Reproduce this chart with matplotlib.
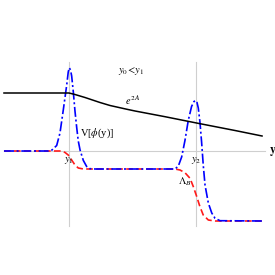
import matplotlib
matplotlib.use("Agg")
import matplotlib.pyplot as plt

plt.rcParams['font.family'] = 'serif'
plt.rcParams['font.serif'] = ['Liberation Serif', 'DejaVu Serif']
plt.rcParams['mathtext.fontset'] = 'stix'

# y1 at 0, y2 at 1 on the horizontal axis
y_marks = [0.0, 1.0]
y_mark_labels = ["$y_1$", "$y_2$"]

# warp factor e^{2A}
warp_x = [-0.512, 0.0, 0.047, 0.126, 0.244, 0.323, 0.457, 0.520, 0.756, 1.016, 1.307, 1.520]
warp_y = [0.58, 0.58, 0.565, 0.535, 0.485, 0.455, 0.417, 0.40, 0.343, 0.277, 0.205, 0.15]

# potential V[phi(y)]
pot_x = [-0.512, -0.165, -0.134, -0.097, -0.071, -0.045, -0.018, -0.006, 0.002, 0.012,
         0.021, 0.034, 0.047, 0.061, 0.073, 0.087, 0.113, 0.139, 0.165, 0.205,
         0.835, 0.861, 0.887, 0.913, 0.939, 0.965, 0.984, 0.998, 1.008, 1.018,
         1.031, 1.044, 1.057, 1.071, 1.097, 1.124, 1.150, 1.189, 1.520]
pot_y = [0.0, 0.0, 0.01, 0.055, 0.18, 0.41, 0.66, 0.79, 0.833, 0.81,
         0.75, 0.59, 0.40, 0.23, 0.10, 0.01, -0.095, -0.155, -0.177, -0.18,
         -0.18, -0.15, -0.06, 0.105, 0.305, 0.445, 0.495, 0.505, 0.485, 0.43,
         0.29, 0.09, -0.14, -0.34, -0.52, -0.62, -0.673, -0.697, -0.70]

# cosmological constant Lambda_B
lam_x = [-0.512, -0.057, -0.031, -0.006, 0.021, 0.047, 0.073, 0.113, 0.835, 0.874,
         0.913, 0.953, 0.979, 1.006, 1.031, 1.057, 1.097, 1.150, 1.520]
lam_y = [0.0, 0.0, -0.015, -0.04, -0.09, -0.14, -0.17, -0.18, -0.18, -0.19,
         -0.217, -0.273, -0.357, -0.457, -0.557, -0.64, -0.69, -0.70, -0.70]

fig = plt.figure(figsize=(2.75, 2.75), dpi=100)
ax = fig.add_axes([0, 0, 1, 1])
ax.set_xlim(-0.5433, 1.622)
ax.set_ylim(-1.24, 1.51)
ax.axis('off')

gray = '#cfcfcf'
ax.plot([-0.512, 1.543], [0, 0], color=gray, lw=0.8, zorder=1)
for xm in y_marks:
    ax.plot([xm, xm], [0.89, -0.75], color=gray, lw=0.8, zorder=1)

ax.plot(warp_x, warp_y, color='black', lw=1.1, zorder=3)
ax.plot(lam_x, lam_y, color='#ff1a1a', lw=1.2, dashes=(4, 2), zorder=2)
ax.plot(pot_x, pot_y, color='#0000ff', lw=1.2, dashes=(6, 1.6, 1.2, 1.6), zorder=2.5)

fs = 7.5
ax.text(1.602, -0.01, "$\\mathbf{y}$", ha='center', va='center', fontsize=8.5)
ax.text(0.492, 0.80, "$y_0\\!<\\!y_1$", ha='center', va='center', fontsize=fs)
ax.text(0.504, 0.505, "$e^{2\\,A}$", ha='center', va='center', fontsize=fs)
ax.text(0.224, 0.18, "V[$\\phi$(y)]", ha='center', va='center', fontsize=fs)
for xm, lab in zip(y_marks, y_mark_labels):
    ax.text(xm, -0.09, lab, ha='center', va='center', fontsize=fs)
ax.text(0.909, -0.31, "$\\Lambda_B$", ha='center', va='center', fontsize=fs)

fig.savefig("out.png", dpi=100)
